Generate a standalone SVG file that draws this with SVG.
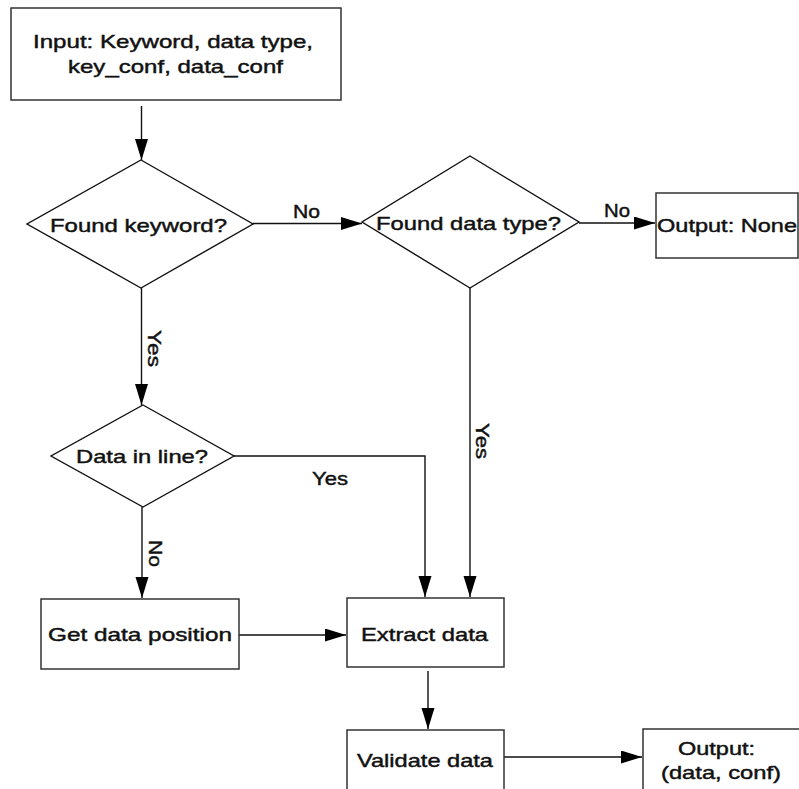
<svg xmlns="http://www.w3.org/2000/svg" width="799" height="789" viewBox="0 0 799 789">
<defs>
<marker id="ah" markerUnits="userSpaceOnUse" markerWidth="22" markerHeight="14" refX="21" refY="6.5" orient="auto">
<path d="M0,0 L21,6.5 L0,13 z" fill="#000"/>
</marker>
<style>
.box{fill:#fff;stroke:#333;stroke-width:1.5}
.dia{fill:#fff;stroke:#111;stroke-width:1.4}
.con{fill:none;stroke:#111;stroke-width:1.4}
.arr{marker-end:url(#ah)}
text{font-family:"Liberation Sans",Arial,sans-serif;font-size:19px;fill:#111;stroke:#111;stroke-width:0.45}
</style>
</defs>
<rect width="799" height="789" fill="#fff"/>
<g id="connectors">
<line class="con arr" x1="141.5" y1="106" x2="141.5" y2="160"/>
<line class="con arr" x1="253" y1="223.5" x2="362" y2="223.5"/>
<line class="con arr" x1="579" y1="223" x2="655" y2="223"/>
<line class="con arr" x1="141.5" y1="288" x2="141.5" y2="405"/>
<polyline class="con arr" points="234,456 425,456 425,597"/>
<line class="con arr" x1="470" y1="288" x2="470" y2="597"/>
<line class="con arr" x1="142" y1="507" x2="142" y2="598"/>
<line class="con arr" x1="239" y1="635" x2="346" y2="635"/>
<line class="con arr" x1="428" y1="671" x2="428" y2="729"/>
<line class="con arr" x1="504" y1="757" x2="642" y2="757"/>
<text x="293" y="218" textLength="27" lengthAdjust="spacingAndGlyphs">No</text>
<text x="604" y="217" textLength="26" lengthAdjust="spacingAndGlyphs">No</text>
<text transform="translate(147.5,330) rotate(90)" textLength="37" lengthAdjust="spacingAndGlyphs">Yes</text>
<text x="312" y="485" textLength="36" lengthAdjust="spacingAndGlyphs">Yes</text>
<text transform="translate(476,423) rotate(90)" textLength="36" lengthAdjust="spacingAndGlyphs">Yes</text>
<text transform="translate(149,540) rotate(90)" textLength="27" lengthAdjust="spacingAndGlyphs">No</text>
</g>
<g id="input">
<rect class="box" x="11" y="8" width="330" height="92"/>
<text x="33" y="48" textLength="280" lengthAdjust="spacingAndGlyphs">Input: Keyword, data type,</text>
<text x="68" y="73" textLength="215" lengthAdjust="spacingAndGlyphs">key_conf, data_conf</text>
</g>
<g id="found-keyword">
<polygon class="dia" points="141,160 253,224 141,288 27,224"/>
<text x="50" y="232" textLength="177" lengthAdjust="spacingAndGlyphs">Found keyword?</text>
</g>
<g id="found-data-type">
<polygon class="dia" points="470,156 579,222 470,288 362,222"/>
<text x="376" y="230" textLength="185" lengthAdjust="spacingAndGlyphs">Found data type?</text>
</g>
<g id="output-none">
<rect class="box" x="656" y="193" width="142" height="65"/>
<text x="657" y="232" textLength="140" lengthAdjust="spacingAndGlyphs">Output: None</text>
</g>
<g id="data-in-line">
<polygon class="dia" points="143,405 234,456 143,507 51,456"/>
<text x="76" y="463" textLength="132" lengthAdjust="spacingAndGlyphs">Data in line?</text>
</g>
<g id="get-data-position">
<rect class="box" x="41" y="599" width="198" height="70"/>
<text x="48" y="641" textLength="184" lengthAdjust="spacingAndGlyphs">Get data position</text>
</g>
<g id="extract-data">
<rect class="box" x="347" y="598" width="157" height="69"/>
<text x="361" y="641" textLength="127" lengthAdjust="spacingAndGlyphs">Extract data</text>
</g>
<g id="validate-data">
<rect class="box" x="347" y="730" width="157" height="80"/>
<text x="357" y="767" textLength="136" lengthAdjust="spacingAndGlyphs">Validate data</text>
</g>
<g id="output-data-conf">
<rect class="box" x="643" y="729" width="170" height="80"/>
<text x="678" y="755" textLength="77" lengthAdjust="spacingAndGlyphs">Output:</text>
<text x="661" y="779" textLength="120" lengthAdjust="spacingAndGlyphs">(data, conf)</text>
</g>
</svg>
